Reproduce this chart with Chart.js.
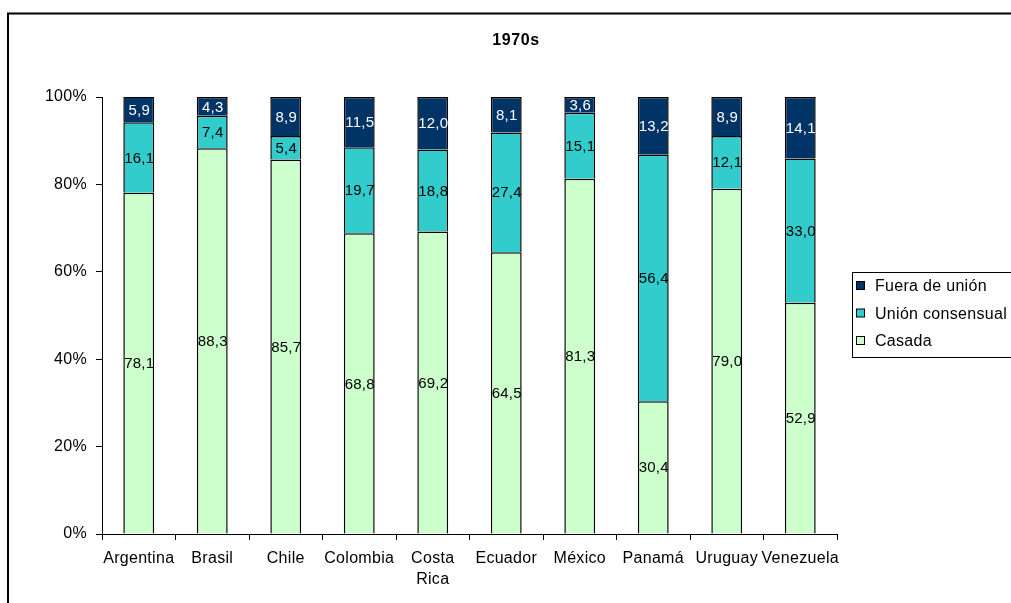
<!DOCTYPE html>
<html><head><meta charset="utf-8">
<script src="https://cdn.jsdelivr.net/npm/chart.js@4.4.0/dist/chart.umd.min.js"></script>
<style>html,body{margin:0;padding:0;background:#fff}#wrap{width:1011px;height:603px;position:relative}</style>
</head><body><div id="wrap"><canvas id="c" width="1011" height="603"></canvas></div>
<script>
const categories = ['Argentina','Brasil','Chile','Colombia',['Costa','Rica'],'Ecuador','México','Panamá','Uruguay','Venezuela'];
const casada = [78.1,88.3,85.7,68.8,69.2,64.5,81.3,30.4,79.0,52.9];
const unionConsensual = [16.1,7.4,5.4,19.7,18.8,27.4,15.1,56.4,12.1,33.0];
const fueraUnion = [5.9,4.3,8.9,11.5,12.0,8.1,3.6,13.2,8.9,14.1];
const yTicks = [0,20,40,60,80,100];
const chartTitle = '1970s';

const FONT = '"Liberation Sans", Arial, sans-serif';

const framePlugin = {
  id:'frame',
  beforeDraw(chart){
    const ctx = chart.ctx;
    ctx.save();
    ctx.fillStyle='#fff';ctx.fillRect(0,0,chart.width,chart.height);
    ctx.strokeStyle='#000';ctx.lineWidth=2;
    ctx.beginPath();ctx.moveTo(8,620);ctx.lineTo(8,13.5);ctx.lineTo(1020,13.5);ctx.stroke();
    ctx.fillStyle='#000';ctx.font='bold 16px '+FONT;ctx.textAlign='center';ctx.textBaseline='middle';
    ctx.letterSpacing='0.6px';
    ctx.fillText(chartTitle,516,41);
    ctx.restore();
    ctx.letterSpacing='0.3px';
  },
  afterDraw(chart){
    const ctx = chart.ctx;
    ctx.save();
    ctx.letterSpacing='0.2px';
    chart.data.datasets.forEach((ds,di)=>{
      const meta = chart.getDatasetMeta(di);
      meta.data.forEach((bar,i)=>{
        const v = ds.data[i];
        const y = (bar.y + bar.base)/2;
        ctx.font='15px '+FONT;ctx.textAlign='center';ctx.textBaseline='middle';
        ctx.fillStyle = ds.labelColor;
        ctx.fillText(v.toFixed(1).replace('.',','), bar.x+0.5, y+1);
      });
    });
    // legend
    const lx=852, ly=272, lw=170, lh=85;
    ctx.strokeStyle='#000';ctx.lineWidth=1;
    ctx.strokeRect(lx+0.5,ly+0.5,lw,lh);
    ctx.beginPath();ctx.rect(lx,ly,1009-lx,lh+2);ctx.clip();
    ctx.letterSpacing='0.3px';
    const items=[2,1,0];
    items.forEach((di,k)=>{
      const ds=chart.data.datasets[di];
      const cy=286+k*27.5;
      ctx.fillStyle=ds.backgroundColor;ctx.fillRect(856.5,cy-4.5,8,8);
      ctx.strokeStyle='#000';ctx.strokeRect(856.5,cy-4.5,8,8);
      ctx.fillStyle='#000';ctx.font='16px '+FONT;ctx.textAlign='left';ctx.textBaseline='middle';
      ctx.fillText(ds.label,875,cy+1);
    });
    ctx.restore();
    ctx.letterSpacing='0px';
  }
};

new Chart(document.getElementById('c'),{
  type:'bar',
  data:{labels:categories,datasets:[
    {label:'Casada',data:casada,backgroundColor:'#CCFFCC',borderColor:'#000',borderWidth:1.5,labelColor:'#000'},
    {label:'Unión consensual',data:unionConsensual,backgroundColor:'#33CCCC',borderColor:'#000',borderWidth:1.5,labelColor:'#000'},
    {label:'Fuera de unión',data:fueraUnion,backgroundColor:'#003366',borderColor:'#000',borderWidth:1.5,labelColor:'#fff'}
  ]},
  options:{
    responsive:false,animation:false,
    layout:{padding:{left:0,right:174,top:97,bottom:0}},
    plugins:{legend:{display:false},title:{display:false},tooltip:{enabled:false}},
    datasets:{bar:{categoryPercentage:1,barPercentage:0.42}},
    scales:{
      x:{stacked:true,
        grid:{display:true,drawOnChartArea:false,offset:true,color:'#000',tickLength:6,lineWidth:1},
        border:{display:true,color:'#000',width:1},
        ticks:{color:'#000',font:{family:FONT,size:16,lineHeight:1.3},padding:8,maxRotation:0,autoSkip:false},
        afterFit(s){s.height=69;}
      },
      y:{stacked:true,min:0,max:100,
        afterBuildTicks(s){s.ticks=yTicks.map(v=>({value:v}));},
        grid:{display:true,drawOnChartArea:false,color:'#000',tickLength:6},
        border:{display:true,color:'#000',width:1},
        ticks:{color:'#000',font:{family:FONT,size:16},padding:9,callback:v=>v+'%'},
        afterFit(s){s.width=102;}
      }
    }
  },
  plugins:[framePlugin]
});
</script></body></html>
